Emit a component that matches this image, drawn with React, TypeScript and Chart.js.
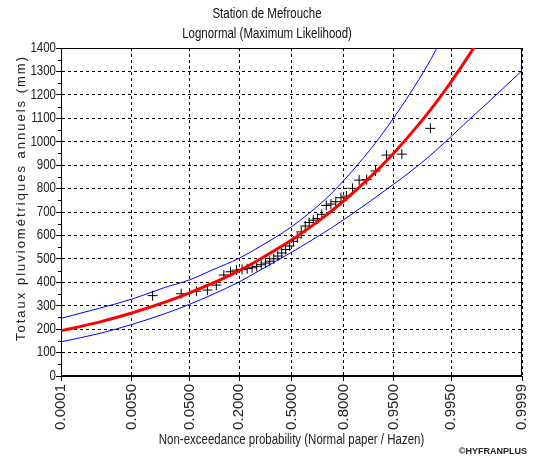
import React, { useEffect, useRef } from 'react';
import { Chart, registerables, LinearScale } from 'chart.js';

Chart.register(...registerables);

// ---------- DATA ----------
const titleLines = ['Station de Mefrouche', 'Lognormal (Maximum Likelihood)'];
const xTitle = 'Non-exceedance probability (Normal paper / Hazen)';
const yTitle = 'Totaux pluviométriques annuels (mm)';
const credit = '©HYFRANPLUS';

// probability-axis ticks (normal paper)
const probTicks = [0.0001, 0.005, 0.05, 0.2, 0.5, 0.8, 0.95, 0.995, 0.9999];
const probLabels = ['0.0001', '0.0050', '0.0500', '0.2000', '0.5000', '0.8000', '0.9500', '0.9950', '0.9999'];

// observed annual totals, at Hazen plotting positions
const obsProb = [
  0.0125, 0.0375, 0.0625, 0.0875, 0.1125, 0.1375, 0.1625, 0.1875, 0.2125, 0.2375,
  0.2625, 0.2875, 0.3125, 0.3375, 0.3625, 0.3875, 0.4125, 0.4375, 0.4625, 0.4875,
  0.5125, 0.5375, 0.5625, 0.5875, 0.6125, 0.6375, 0.6625, 0.6875, 0.7125, 0.7375,
  0.7625, 0.7875, 0.8125, 0.8375, 0.8625, 0.8875, 0.9125, 0.9375, 0.9625, 0.9875,
];
const obsValues = [
  343, 351, 362, 367, 388, 431, 445, 452, 455, 458,
  462, 468, 475, 482, 490, 500, 512, 525, 540, 555,
  575, 590, 615, 640, 655, 665, 672, 690, 728, 734,
  744, 761, 768, 801, 836, 838, 875, 943, 947, 1057,
];

// fitted curve and confidence band
const curveProb = [0.0001, 0.001, 0.005, 0.02, 0.05, 0.1, 0.2, 0.3, 0.5, 0.7, 0.8, 0.9, 0.95, 0.98, 0.99, 0.995, 0.998, 0.999, 0.9999];
const fitValues = [193, 231, 269, 314, 355, 395, 450, 496, 580, 679, 747, 852, 950, 1074, 1165, 1256, 1375, 1465, 1769];
const upperValues = [246, 290, 328, 377, 410, 452, 503, 550, 637, 749, 834, 970, 1100, 1265, 1390, 1530, 1720, 1850, 2400];
const lowerValues = [146, 182, 220, 265, 306, 347, 402, 449, 528, 612, 667, 748, 818, 900, 962, 1022, 1097, 1148, 1303];

const yMin = 0;
const yMax = 1400;
const yStep = 100;

// ---------- normal-probability scale ----------
function probit(p: number): number {
  const a = [-3.969683028665376e1, 2.209460984245205e2, -2.759285104469687e2, 1.38357751867269e2, -3.066479806614716e1, 2.506628277459239];
  const b = [-5.447609879822406e1, 1.615858368580409e2, -1.556989798598866e2, 6.680131188771972e1, -1.328068155288572e1];
  const c = [-7.784894002430293e-3, -3.223964580411365e-1, -2.400758277161838, -2.549732539343734, 4.374664141464968, 2.938163982698783];
  const d = [7.784695709041462e-3, 3.224671290700398e-1, 2.445134137142996, 3.754408661907416];
  const plow = 0.02425;
  const phigh = 1 - plow;
  if (p < plow) {
    const q = Math.sqrt(-2 * Math.log(p));
    return (((((c[0] * q + c[1]) * q + c[2]) * q + c[3]) * q + c[4]) * q + c[5]) / ((((d[0] * q + d[1]) * q + d[2]) * q + d[3]) * q + 1);
  }
  if (p <= phigh) {
    const q = p - 0.5;
    const r = q * q;
    return ((((((a[0] * r + a[1]) * r + a[2]) * r + a[3]) * r + a[4]) * r + a[5]) * q) / (((((b[0] * r + b[1]) * r + b[2]) * r + b[3]) * r + b[4]) * r + 1);
  }
  const q = Math.sqrt(-2 * Math.log(1 - p));
  return -(((((c[0] * q + c[1]) * q + c[2]) * q + c[3]) * q + c[4]) * q + c[5]) / ((((d[0] * q + d[1]) * q + d[2]) * q + d[3]) * q + 1);
}

class ProbitScale extends (LinearScale as any) {
  static id = 'probit';
  determineDataLimits() {
    const self: any = this;
    self.min = probit(self.options.min);
    self.max = probit(self.options.max);
  }
  buildTicks() {
    return probTicks.map((v) => ({ value: v }));
  }
  getPixelForValue(value: any) {
    const self: any = this;
    if (value === null || value === undefined || isNaN(value)) return NaN;
    return self.getPixelForDecimal((probit(value) - self._startValue) / self._valueRange);
  }
}
Chart.register(ProbitScale as any);

const SANS = '"Liberation Sans", Arial, sans-serif';
const SQUEEZE = 0.82;

function narrowText(ctx: any, text: string, x: number, y: number, align: string) {
  ctx.save();
  ctx.translate(x, y);
  ctx.scale(SQUEEZE, 1);
  ctx.textAlign = align;
  ctx.fillText(text, 0, 0);
  ctx.restore();
}

const decorPlugin = {
  id: 'decor',
  beforeDatasetsDraw(chart: any) {
    const { ctx, chartArea } = chart;
    ctx.save();
    ctx.strokeStyle = '#000';
    ctx.lineWidth = 1;
    ctx.strokeRect(Math.round(chartArea.left) + 0.5, Math.round(chartArea.top) + 0.5,
      Math.round(chartArea.right - chartArea.left) - 1, Math.round(chartArea.bottom - chartArea.top) - 1);
    // minor y ticks
    const ys = chart.scales.y;
    ctx.beginPath();
    for (let v = yMin + yStep / 2; v < yMax; v += yStep) {
      const py = Math.round(ys.getPixelForValue(v)) + 0.5;
      ctx.moveTo(chartArea.left - 3, py);
      ctx.lineTo(chartArea.left, py);
    }
    ctx.stroke();
    ctx.restore();
  },
  afterDraw(chart: any) {
    const { ctx, width, chartArea } = chart;
    ctx.save();
    ctx.fillStyle = '#111';
    ctx.textBaseline = 'middle';
    ctx.font = '14px ' + SANS;
    narrowText(ctx, titleLines[0], width / 2, 14, 'center');
    narrowText(ctx, titleLines[1], width / 2, 34, 'center');
    // y tick labels
    const ys = chart.scales.y;
    ctx.fillStyle = '#222';
    ys.ticks.forEach((t: any) => {
      narrowText(ctx, String(t.value), chartArea.left - 5, ys.getPixelForValue(t.value), 'right');
    });
    // x title
    narrowText(ctx, xTitle, (chartArea.left + chartArea.right) / 2, 440, 'center');
    // y title
    ctx.save();
    ctx.translate(21, 198);
    ctx.rotate(-Math.PI / 2);
    ctx.font = '13px ' + SANS;
    ctx.textAlign = 'center';
    try { (ctx as any).letterSpacing = '2px'; } catch (e) {}
    ctx.fillText(yTitle, 0, 0);
    ctx.restore();
    // credit
    ctx.font = 'bold 9px ' + SANS;
    ctx.textAlign = 'right';
    ctx.fillText(credit, 527, 452);
    ctx.restore();
  },
};

export default function App() {
  const ref = useRef<HTMLCanvasElement>(null);
  useEffect(() => {
    if (!ref.current) return;
    const obs = obsProb.map((p, i) => ({ x: p, y: obsValues[i] }));
    const fit = curveProb.map((p, i) => ({ x: p, y: fitValues[i] }));
    const up = curveProb.map((p, i) => ({ x: p, y: upperValues[i] }));
    const lo = curveProb.map((p, i) => ({ x: p, y: lowerValues[i] }));
    const chart = new Chart(ref.current, {
      type: 'scatter',
      data: {
        datasets: [
          {
            label: 'fit', data: fit, showLine: true, borderColor: '#ff0000', borderWidth: 3,
            pointRadius: 0, cubicInterpolationMode: 'monotone', order: 0,
          } as any,
          {
            label: 'obs', data: obs, showLine: false, pointStyle: 'cross', pointRadius: 5,
            borderColor: '#000', borderWidth: 1, backgroundColor: '#000', order: 1,
          } as any,
          {
            label: 'upper', data: up, showLine: true, borderColor: '#0000ff', borderWidth: 1,
            pointRadius: 0, cubicInterpolationMode: 'monotone', order: 2,
          } as any,
          {
            label: 'lower', data: lo, showLine: true, borderColor: '#0000ff', borderWidth: 1,
            pointRadius: 0, cubicInterpolationMode: 'monotone', order: 2,
          } as any,
        ],
      },
      options: {
        responsive: false,
        animation: false,
        devicePixelRatio: 1,
        layout: { padding: { top: 48, right: 12, bottom: 0, left: 0 } },
        plugins: { legend: { display: false }, tooltip: { enabled: false }, title: { display: false } },
        events: [],
        scales: {
          x: {
            type: 'probit' as any,
            min: probTicks[0],
            max: probTicks[probTicks.length - 1],
            ticks: {
              autoSkip: false, minRotation: 90, maxRotation: 90, padding: 3,
              color: '#222', font: { family: SANS, size: 15 },
              callback: (_v: any, i: number) => probLabels[i],
            },
            grid: { color: '#000', tickColor: '#000', tickLength: 5, lineWidth: 1, tickBorderDash: [] } as any,
            border: { color: '#000', dash: [3, 3] },
            afterFit: (s: any) => { s.height = 85; s.paddingLeft = 0; s.paddingRight = 0; },
          } as any,
          y: {
            min: yMin, max: yMax,
            ticks: { stepSize: yStep, display: false },
            grid: { color: '#000', tickColor: '#000', tickLength: 5, lineWidth: 1, tickBorderDash: [] } as any,
            border: { color: '#000', dash: [3, 3] },
            afterFit: (s: any) => { s.width = 61; s.paddingTop = 0; s.paddingBottom = 0; },
          } as any,
        },
      },
      plugins: [decorPlugin],
    } as any);
    return () => chart.destroy();
  }, []);
  return (
    <div style={{ position: 'fixed', left: 0, top: 0, width: 534, height: 461, background: '#fff' }}>
      <canvas ref={ref} width={534} height={461} style={{ width: 534, height: 461, display: 'block' }} />
    </div>
  );
}
